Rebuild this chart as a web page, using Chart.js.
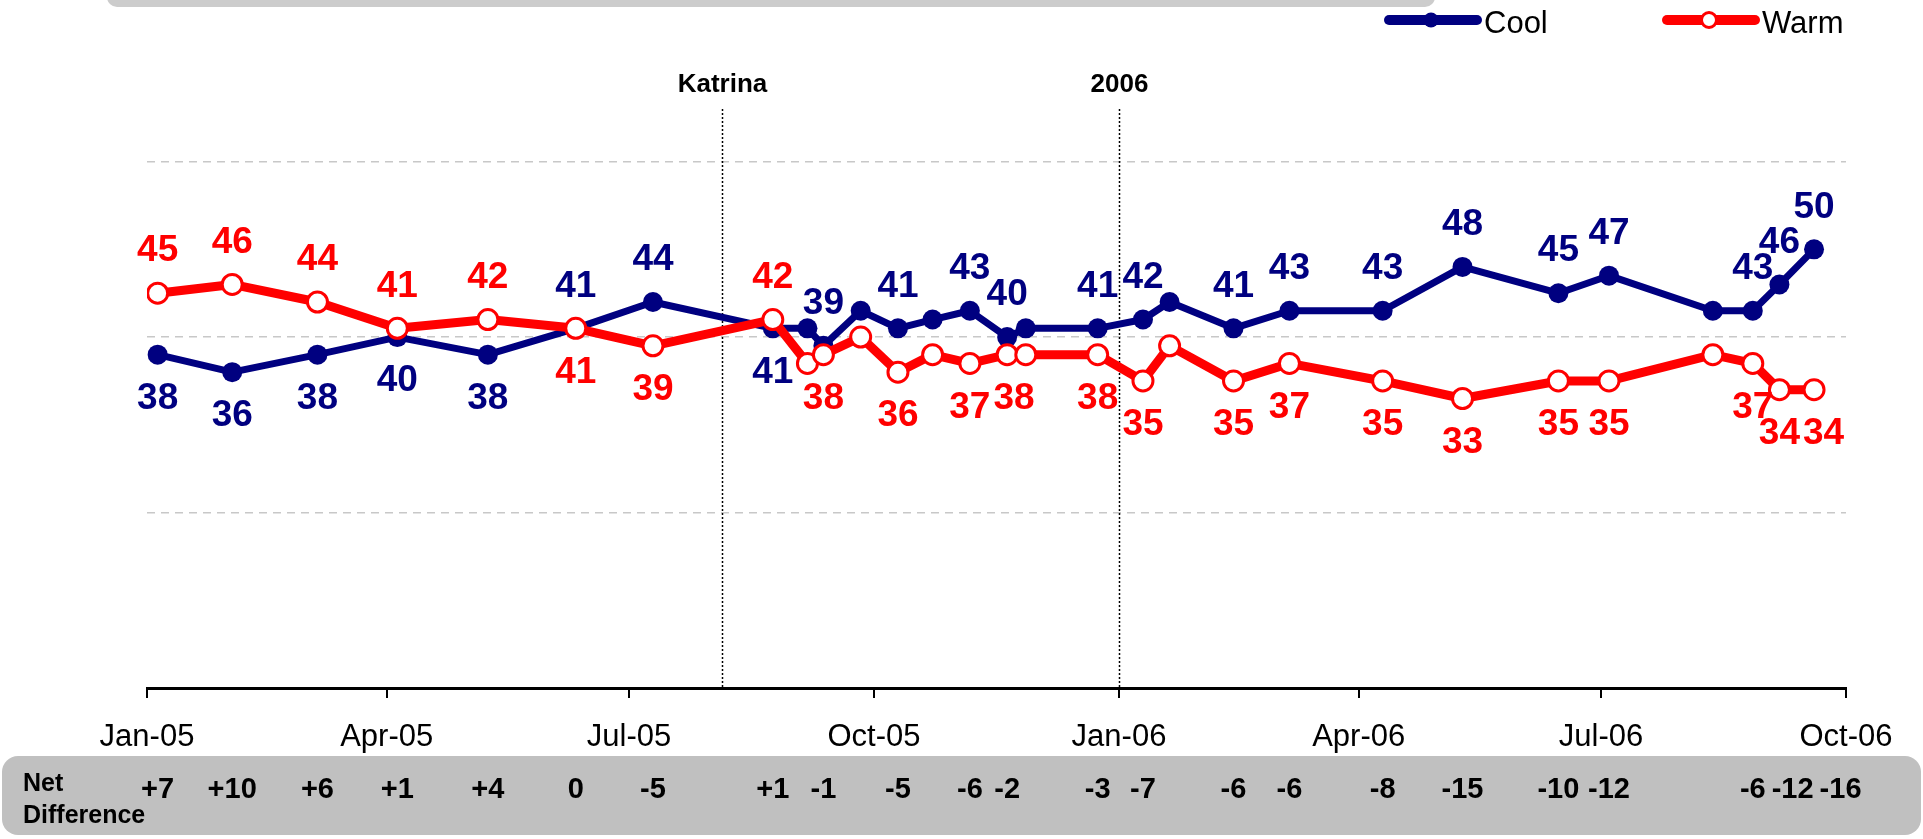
<!DOCTYPE html>
<html>
<head>
<meta charset="utf-8">
<title>Cool vs Warm</title>
<script src="https://cdn.jsdelivr.net/npm/chart.js@4.4.1/dist/chart.umd.min.js"></script>
<style>
  html, body { margin: 0; padding: 0; background: #fff; overflow: hidden; }
  #chart { display: block; }
</style>
</head>
<body>
<canvas id="chart" width="1923" height="839"></canvas>
<script>
// survey field dates
const surveyDates = [
  '2005-01-05', '2005-02-02', '2005-03-06', '2005-04-05', '2005-05-09', '2005-06-11',
  '2005-07-10', '2005-08-24', '2005-09-06', '2005-09-12', '2005-09-26', '2005-10-10',
  '2005-10-23', '2005-11-06', '2005-11-20', '2005-11-27', '2005-12-24', '2006-01-10',
  '2006-01-20', '2006-02-13', '2006-03-06', '2006-04-10', '2006-05-10', '2006-06-15',
  '2006-07-04', '2006-08-12', '2006-08-27', '2006-09-06', '2006-09-19'
];
const cool = [38, 36, 38, 40, 38, 41, 44, 41, 41, 39, 43, 41, 42, 43, 40, 41, 41, 42, 44, 41, 43, 43, 48, 45, 47, 43, 43, 46, 50];
const warm = [45, 46, 44, 41, 42, 41, 39, 42, 37, 38, 40, 36, 38, 37, 38, 38, 38, 35, 39, 35, 37, 35, 33, 35, 35, 38, 37, 34, 34];
// 1 = value printed next to the point (and a net difference shown below)
const labelled = [1, 1, 1, 1, 1, 1, 1, 1, 0, 1, 0, 1, 0, 1, 1, 0, 1, 1, 0, 1, 1, 1, 1, 1, 1, 0, 1, 1, 1];
const netDiff = ['+7', '+10', '+6', '+1', '+4', '0', '-5', '+1', '-1', '-5', '-6', '-2', '-3', '-7',
                 '-6', '-6', '-8', '-15', '-10', '-12', '-6', '-12', '-16'];

const tickDates = ['2005-01-01', '2005-04-01', '2005-07-01', '2005-10-01', '2006-01-01', '2006-04-01', '2006-07-01', '2006-10-01'];
const tickLabels = ['Jan-05', 'Apr-05', 'Jul-05', 'Oct-05', 'Jan-06', 'Apr-06', 'Jul-06', 'Oct-06'];
const gridValues = [20, 40, 60];

const eventNames = ['Katrina', '2006'];
const eventDates = ['2005-08-05', '2006-01-01'];

const NAVY = '#000080';
const RED = '#FF0000';
const FONT = '"Liberation Sans", Arial, sans-serif';

// days since Jan 1 2005
const toDay = s => (Date.parse(s) - Date.parse(tickDates[0])) / 864e5;

// push labels to the right until they no longer overlap
function spreadLabels(items, gap) {
  const placed = [];
  items.sort((a, b) => a.x - b.x);
  items.forEach(it => {
    let moved = true;
    while (moved) {
      moved = false;
      for (const p of placed) {
        const ox = Math.min(it.x + it.w / 2, p.x + p.w / 2) - Math.max(it.x - it.w / 2, p.x - p.w / 2);
        const oy = Math.min(it.y + it.h / 2, p.y + p.h / 2) - Math.max(it.y - it.h / 2, p.y - p.h / 2);
        if (ox > -gap && oy > 0) {
          it.x += ox + gap;
          moved = true;
        }
      }
    }
    placed.push(it);
  });
  return placed;
}

const decorPlugin = {
  id: 'decor',
  beforeDraw(chart) {
    const ctx = chart.ctx;
    ctx.save();
    ctx.fillStyle = '#fff';
    ctx.fillRect(0, 0, chart.width, chart.height);
    // bottom of the title box cut off at the top
    ctx.fillStyle = '#CCCCCC';
    ctx.beginPath();
    ctx.roundRect(107, -20, 1328, 27, 10);
    ctx.fill();
    // net difference band
    ctx.fillStyle = '#C0C0C0';
    ctx.beginPath();
    ctx.roundRect(2, 756, 1919, 79, 16);
    ctx.fill();
    ctx.restore();
  },
  beforeDatasetsDraw(chart) {
    const ctx = chart.ctx;
    const xs = chart.scales.x;
    const area = chart.chartArea;
    ctx.save();
    eventDates.forEach((d, i) => {
      const x = Math.round(xs.getPixelForValue(toDay(d))) + 0.5;
      ctx.strokeStyle = '#000';
      ctx.lineWidth = 1.5;
      ctx.setLineDash([2, 2]);
      ctx.beginPath();
      ctx.moveTo(x, area.top);
      ctx.lineTo(x, area.bottom);
      ctx.stroke();
      ctx.setLineDash([]);
      ctx.fillStyle = '#000';
      ctx.font = 'bold 26px ' + FONT;
      ctx.textAlign = 'center';
      ctx.textBaseline = 'middle';
      ctx.fillText(eventNames[i], x, 85);
    });
    ctx.restore();
  },
  afterDatasetsDraw(chart) {
    const ctx = chart.ctx;
    const xs = chart.scales.x;
    const ys = chart.scales.y;
    ctx.save();

    // value labels
    ctx.font = 'bold 37px ' + FONT;
    const items = [];
    surveyDates.forEach((d, i) => {
      if (!labelled[i]) return;
      const x = xs.getPixelForValue(toDay(d));
      const coolUp = cool[i] >= warm[i];
      const yc = ys.getPixelForValue(cool[i]) + (coolUp ? -43 : 43);
      const yw = ys.getPixelForValue(warm[i]) + (coolUp ? 43 : -43);
      items.push({ text: String(cool[i]), color: NAVY, x: x, y: yc, w: ctx.measureText(String(cool[i])).width, h: 26 });
      items.push({ text: String(warm[i]), color: RED, x: x, y: yw, w: ctx.measureText(String(warm[i])).width, h: 26 });
    });
    ctx.textAlign = 'center';
    ctx.textBaseline = 'middle';
    spreadLabels(items, 3).forEach(it => {
      ctx.fillStyle = it.color;
      ctx.fillText(it.text, it.x, it.y + 1);
    });

    // net difference row
    ctx.fillStyle = '#000';
    ctx.font = 'bold 25px ' + FONT;
    ctx.textAlign = 'left';
    ctx.fillText('Net', 23, 784);
    ctx.fillText('Difference', 23, 816);

    ctx.font = 'bold 29px ' + FONT;
    const nd = [];
    let k = 0;
    surveyDates.forEach((d, i) => {
      if (!labelled[i]) return;
      const t = netDiff[k++];
      nd.push({ text: t, x: xs.getPixelForValue(toDay(d)), y: 790, w: ctx.measureText(t).width, h: 22 });
    });
    ctx.textAlign = 'center';
    spreadLabels(nd, 6).forEach(it => ctx.fillText(it.text, it.x, it.y));

    // legend
    const legend = [
      { ds: chart.data.datasets[0], x: 1389 },
      { ds: chart.data.datasets[1], x: 1667 }
    ];
    legend.forEach(l => {
      const ds = l.ds;
      ctx.strokeStyle = ds.borderColor;
      ctx.lineWidth = 10;
      ctx.lineCap = 'round';
      ctx.beginPath();
      ctx.moveTo(l.x, 20);
      ctx.lineTo(l.x + 88, 20);
      ctx.stroke();
      ctx.beginPath();
      ctx.arc(l.x + 42, 20, 7.5, 0, Math.PI * 2);
      ctx.fillStyle = ds.pointBackgroundColor;
      ctx.fill();
      if (ds.pointBorderWidth) {
        ctx.lineWidth = 3;
        ctx.strokeStyle = ds.pointBorderColor;
        ctx.stroke();
      }
      ctx.fillStyle = '#000';
      ctx.font = '31px ' + FONT;
      ctx.textAlign = 'left';
      ctx.textBaseline = 'middle';
      ctx.fillText(ds.label, l.x + 95, 24);
    });

    ctx.restore();
  }
};

const ctx = document.getElementById('chart').getContext('2d');
const chart = new Chart(ctx, {
  type: 'line',
  data: {
    datasets: [
      {
        label: 'Cool',
        data: surveyDates.map((d, i) => ({ x: toDay(d), y: cool[i] })),
        borderColor: NAVY,
        backgroundColor: NAVY,
        borderWidth: 7,
        borderJoinStyle: 'round',
        pointRadius: 10,
        pointBackgroundColor: NAVY,
        pointBorderColor: NAVY,
        pointBorderWidth: 0,
        tension: 0,
        order: 1
      },
      {
        label: 'Warm',
        data: surveyDates.map((d, i) => ({ x: toDay(d), y: warm[i] })),
        borderColor: RED,
        backgroundColor: RED,
        borderWidth: 9,
        borderJoinStyle: 'round',
        pointRadius: 10,
        pointBackgroundColor: '#FFFFFF',
        pointBorderColor: RED,
        pointBorderWidth: 3,
        tension: 0,
        order: 0
      }
    ]
  },
  options: {
    responsive: false,
    animation: false,
    layout: { padding: { left: 147, right: 77, top: 109, bottom: 0 } },
    plugins: {
      legend: { display: false },
      tooltip: { enabled: false }
    },
    scales: {
      x: {
        type: 'linear',
        min: toDay(tickDates[0]),
        max: toDay(tickDates[tickDates.length - 1]),
        afterBuildTicks: s => { s.ticks = tickDates.map(d => ({ value: toDay(d) })); },
        afterFit: s => { s.height = 151; },
        ticks: {
          autoSkip: false,
          maxRotation: 0,
          padding: 21,
          color: '#000',
          font: { family: FONT, size: 31 },
          callback: v => tickLabels[tickDates.findIndex(d => toDay(d) === v)]
        },
        grid: { drawOnChartArea: false, drawTicks: true, tickLength: 10, color: '#000', lineWidth: 2 },
        border: { display: true, color: '#000', width: 3 }
      },
      y: {
        type: 'linear',
        min: 0,
        max: 66,
        afterBuildTicks: s => { s.ticks = gridValues.map(v => ({ value: v })); },
        afterFit: s => { s.width = 0; },
        ticks: { display: false },
        grid: { color: '#C8C8C8', lineWidth: 1.5, drawTicks: false },
        border: { display: false, dash: [8, 6] }
      }
    }
  },
  plugins: [decorPlugin]
});
</script>
</body>
</html>
